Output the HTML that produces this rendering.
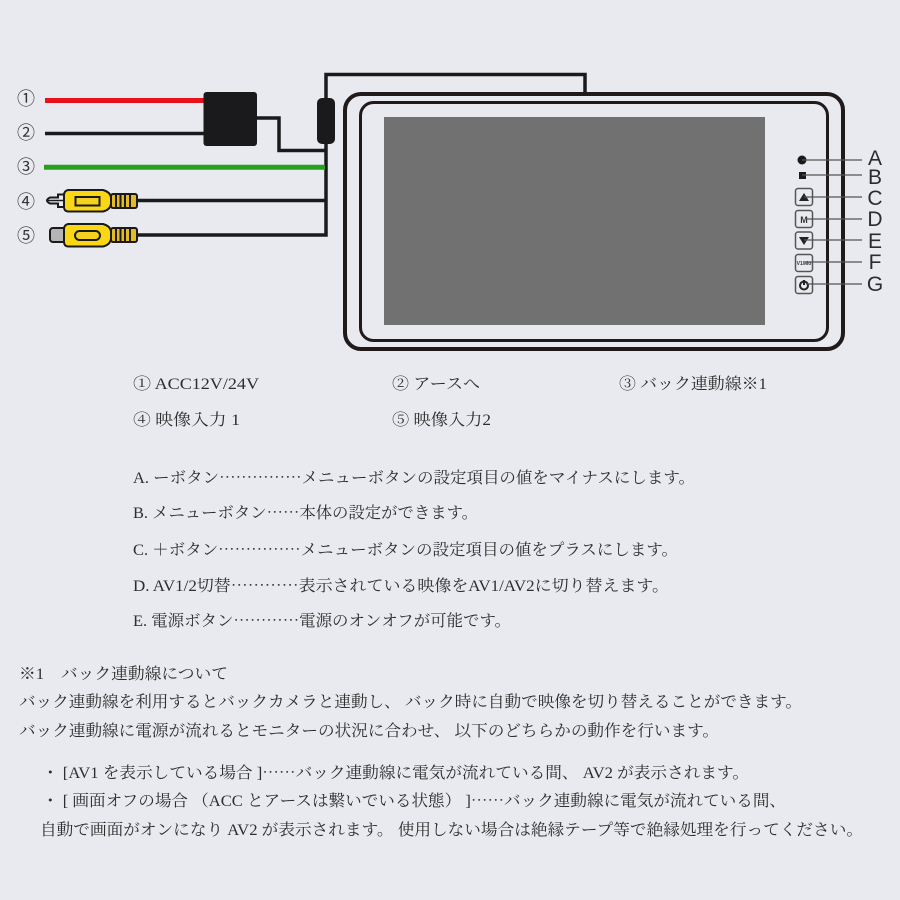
<!DOCTYPE html>
<html lang="ja"><head><meta charset="utf-8"><title>配線図</title>
<style>
html,body{margin:0;padding:0;background:#e9e9f0}
svg{display:block}
.t{font-family:"Liberation Serif","Noto Serif CJK JP","Noto Serif CJK SC",serif;font-size:16px;fill:#2e2e2e}
.e{font-family:"Noto Serif CJK JP","Noto Serif CJK SC",serif}
.n{font-family:"Noto Sans CJK JP","Noto Sans CJK SC",sans-serif;font-size:18px;fill:#333}
.l{font-family:"Liberation Sans",sans-serif;font-size:21px;fill:#2c2c2c}
</style></head><body>
<svg width="900" height="900" viewBox="0 0 900 900" xmlns="http://www.w3.org/2000/svg">
<rect width="900" height="900" fill="#e9e9f0"/>
<!-- wires -->
<g fill="none" stroke="#1a1a1c" stroke-width="3.500">
<path d="M326 98V74.500H585V92"/>
<path d="M326 144V235H137"/>
<path d="M45 133.500H206"/>
<path d="M257 118H279V150.500H326"/>
<path d="M137 200.500H326"/>
</g>
<path d="M45 100.500H206" stroke="#e8121c" stroke-width="5"/>
<path d="M44 167.300H325" stroke="#27a01c" stroke-width="5"/>
<rect x="203.500" y="92" width="53.500" height="54" rx="3" fill="#1a1a1c"/>
<rect x="317" y="98" width="18" height="46" rx="5" fill="#1a1a1c"/>
<!-- monitor -->
<rect x="345" y="94" width="498" height="255" rx="16" fill="#e9e9f0" stroke="#211a1a" stroke-width="4"/>
<rect x="360.500" y="102.500" width="467" height="238" rx="13" fill="#e9e9f0" stroke="#211a1a" stroke-width="3"/>
<rect x="384" y="117" width="381" height="208" fill="#717171"/>
<!-- RCA 4 -->
<g stroke="#1a1a1c" stroke-width="2">
<path d="M64 194.500H58V197.500H50Q44 200.500 50 203.500H58V207H64Z" fill="#e9e9f0"/>
<path d="M64 200.500H48" stroke-width="1.500"/>
<path d="M68 190H103Q110 192 111 197V204Q110 210 103 211.500H68Q64 211 64 207V195Q64 191 68 190Z" fill="#fad714"/>
<rect x="111" y="194" width="26" height="14" rx="2" fill="#e2bc22"/>
<path d="M116 194V208M120.500 194V208M125 194V208M130 194V208"/>
<rect x="75.500" y="197" width="24" height="8.500" fill="#f5d020"/>
</g>
<!-- RCA 5 -->
<g stroke="#1a1a1c" stroke-width="2">
<rect x="50" y="228" width="16" height="14" rx="3" fill="#b5b5b5"/>
<path d="M68 224H103Q110 226 111 231V239Q110 245 103 246.500H68Q64 246 64 242V229Q64 225 68 224Z" fill="#fad714"/>
<rect x="111" y="228" width="26" height="14" rx="2" fill="#e2bc22"/>
<path d="M116 228V242M120.500 228V242M125 228V242M130 228V242"/>
<rect x="75" y="231" width="25" height="9" rx="4.500" fill="#f5d020"/>
</g>
<!-- numbers -->
<g class="n" text-anchor="middle">
<text x="26" y="105">①</text><text x="26" y="139">②</text><text x="26" y="173">③</text><text x="26" y="208">④</text><text x="26" y="242">⑤</text>
</g>
<!-- buttons -->
<circle cx="802" cy="160" r="4.500" fill="#1a1a1c"/>
<rect x="799" y="172" width="7" height="7" fill="#1a1a1c"/>
<g fill="#e9e9f0" stroke="#555" stroke-width="1.500">
<rect x="795.500" y="188.500" width="17" height="17" rx="2.500"/>
<rect x="795.500" y="210.500" width="17" height="17" rx="2.500"/>
<rect x="795.500" y="232" width="17" height="17" rx="2.500"/>
<rect x="795.500" y="254.500" width="17" height="17" rx="2.500"/>
<rect x="795.500" y="276.500" width="17" height="17" rx="2.500"/>
</g>
<path d="M804 193L809 201H799Z" fill="#222"/>
<path d="M799 237H809L804 245Z" fill="#222"/>
<text x="804" y="223" text-anchor="middle" font-family="Liberation Sans,sans-serif" font-size="9" font-weight="bold" fill="#333">M</text>
<text x="804" y="265" text-anchor="middle" font-family="Liberation Sans,sans-serif" font-size="5" font-weight="bold" fill="#333">V1/Mo</text>
<circle cx="804" cy="285.500" r="4" fill="none" stroke="#222" stroke-width="2"/>
<path d="M804 280V285" stroke="#222" stroke-width="2"/>
<path d="M802 160H862M802 175H862M804 197H862M806 219H862M804 240H862M806 262H862M806 284H862" stroke="#555" stroke-width="1.300" fill="none"/>
<g class="l" text-anchor="middle">
<text x="875" y="165">A</text><text x="875" y="184">B</text><text x="875" y="205">C</text><text x="875" y="226">D</text><text x="875" y="248">E</text><text x="875" y="269">F</text><text x="875" y="291">G</text>
</g>
<!-- text -->
<g class="t">
<text x="133" y="389" textLength="126" lengthAdjust="spacingAndGlyphs">① ACC12V/24V</text>
<text x="392" y="389" textLength="88" lengthAdjust="spacingAndGlyphs">② アースへ</text>
<text x="619" y="389" textLength="148" lengthAdjust="spacingAndGlyphs">③ バック連動線※1</text>
<text x="133" y="425" textLength="107" lengthAdjust="spacingAndGlyphs">④ 映像入力  1</text>
<text x="392" y="425" textLength="99" lengthAdjust="spacingAndGlyphs">⑤ 映像入力2</text>
<text x="133" y="483" textLength="562" lengthAdjust="spacingAndGlyphs">A. ーボタン<tspan class="e">……………</tspan>メニューボタンの設定項目の値をマイナスにします。</text>
<text x="133" y="518" textLength="345" lengthAdjust="spacingAndGlyphs">B. メニューボタン<tspan class="e">……</tspan>本体の設定ができます。</text>
<text x="133" y="555" textLength="545" lengthAdjust="spacingAndGlyphs">C. ＋ボタン<tspan class="e">……………</tspan>メニューボタンの設定項目の値をプラスにします。</text>
<text x="133" y="591" textLength="536" lengthAdjust="spacingAndGlyphs">D. AV1/2切替<tspan class="e">…………</tspan>表示されている映像をAV1/AV2に切り替えます。</text>
<text x="133" y="626" textLength="378" lengthAdjust="spacingAndGlyphs">E. 電源ボタン<tspan class="e">…………</tspan>電源のオンオフが可能です。</text>
<text x="19" y="679" textLength="209" lengthAdjust="spacingAndGlyphs">※1　バック連動線について</text>
<text x="19" y="707" textLength="783" lengthAdjust="spacingAndGlyphs">バック連動線を利用するとバックカメラと連動し、 バック時に自動で映像を切り替えることができます。</text>
<text x="19" y="736" textLength="700" lengthAdjust="spacingAndGlyphs">バック連動線に電源が流れるとモニターの状況に合わせ、 以下のどちらかの動作を行います。</text>
<text x="42" y="778" textLength="707" lengthAdjust="spacingAndGlyphs">・ [AV1 を表示している場合 ]<tspan class="e">……</tspan>バック連動線に電気が流れている間、 AV2 が表示されます。</text>
<text x="42" y="806" textLength="744" lengthAdjust="spacingAndGlyphs">・ [ 画面オフの場合 （ACC とアースは繋いでいる状態） ]<tspan class="e">……</tspan>バック連動線に電気が流れている間、</text>
<text x="40" y="835" textLength="823" lengthAdjust="spacingAndGlyphs">自動で画面がオンになり AV2 が表示されます。 使用しない場合は絶縁テープ等で絶縁処理を行ってください。</text>
</g>
</svg>
</body></html>
